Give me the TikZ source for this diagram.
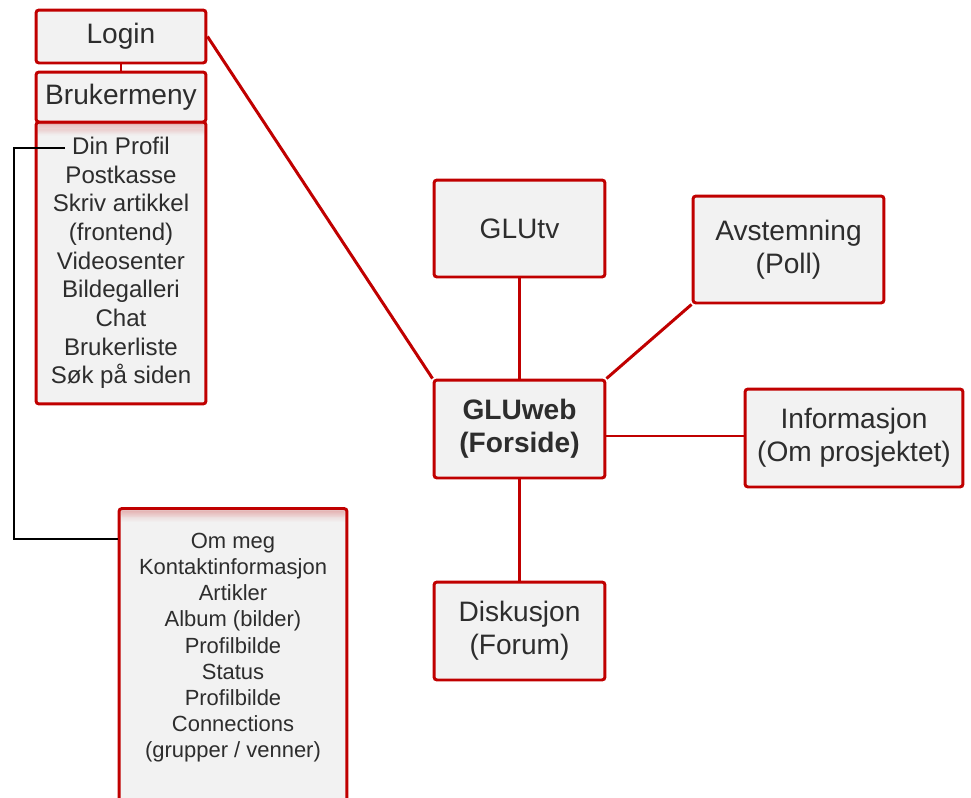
\documentclass[tikz,border=0pt]{standalone}
\usepackage{fontspec}
\setmainfont{Liberation Sans}
\usetikzlibrary{positioning}
\definecolor{boksrod}{RGB}{192,0,0}
\definecolor{boksgra}{RGB}{242,242,242}
\definecolor{tekstgra}{RGB}{45,45,45}
\begin{document}
\begin{tikzpicture}[x=0.02cm,y=-0.02cm,
  boks/.style={draw=boksrod,fill=boksgra,line width=1.7pt,rounded corners=1.7pt,inner sep=0pt,align=center,text=tekstgra,font=\fontsize{16}{18.7}\selectfont},
  liste/.style={boks,font=\fontsize{13.7}{16.3}\selectfont,
    path picture={\foreach \i [evaluate=\i as \m using 30-2.5*\i] in {0,...,11}
      \fill[boksrod!\m!boksgra] ([yshift=-\i*0.022cm]path picture bounding box.north west) rectangle ([yshift=-\i*0.022cm-0.023cm]path picture bounding box.north east);}},
  lenke/.style={draw=boksrod,line width=1.7pt},
  svart/.style={draw=black,line width=1.1pt}]
\clip (0,0) rectangle (971,798);

\node[liste,minimum width=3.4cm,minimum height=5.64cm] (meny) at (121,263) {Din Profil\\Postkasse\\Skriv artikkel\\(frontend)\\Videosenter\\Bildegalleri\\Chat\\Brukerliste\\Søk på siden};
\node[boks,minimum width=3.4cm,minimum height=1.06cm] (login) at (121,36.5) {Login};
\node[boks,minimum width=3.4cm,minimum height=1.0cm] (bruker) at (121,97) {Brukermeny};
\draw[lenke] (login) -- (bruker);

\node[boks,minimum width=3.42cm,minimum height=1.94cm] (glutv) at (519.5,228.5) {GLUtv};
\node[boks,minimum width=3.82cm,minimum height=2.14cm] (poll) at (788.5,249.5) {Avstemning\\(Poll)};
\node[boks,minimum width=3.42cm,minimum height=1.96cm,font=\fontsize{16}{18.7}\selectfont\bfseries] (gluweb) at (519.5,429) {GLUweb\\(Forside)};
\node[boks,minimum width=4.36cm,minimum height=1.96cm] (info) at (854,438) {Informasjon\\(Om prosjektet)};
\node[boks,minimum width=3.42cm,minimum height=1.96cm] (forum) at (519.5,631) {Diskusjon\\(Forum)};

\node[liste,anchor=north,minimum width=4.56cm,minimum height=6.2cm,font=\fontsize{12.5}{14.9}\selectfont] (profil) at (233,507) {Om meg\\Kontaktinformasjon\\Artikler\\Album (bilder)\\Profilbilde\\Status\\Profilbilde\\Connections\\(grupper / venner)\\[0.2cm]\mbox{}};

\draw[lenke] (login.east) -- (gluweb.north west);
\draw[lenke] (glutv) -- (gluweb);
\draw[lenke] (poll.south west) -- (gluweb.north east);
\draw[lenke] ([yshift=0.04cm]info.west) -- ([yshift=0.04cm]info.west -| gluweb.east);
\draw[lenke] (gluweb) -- (forum);

\coordinate (dinprofil) at (65,148);
\coordinate (knekk) at (14,148);
\draw[svart] (dinprofil) -- (knekk) |- ([yshift=-0.64cm]profil.north west);
\end{tikzpicture}
\end{document}
